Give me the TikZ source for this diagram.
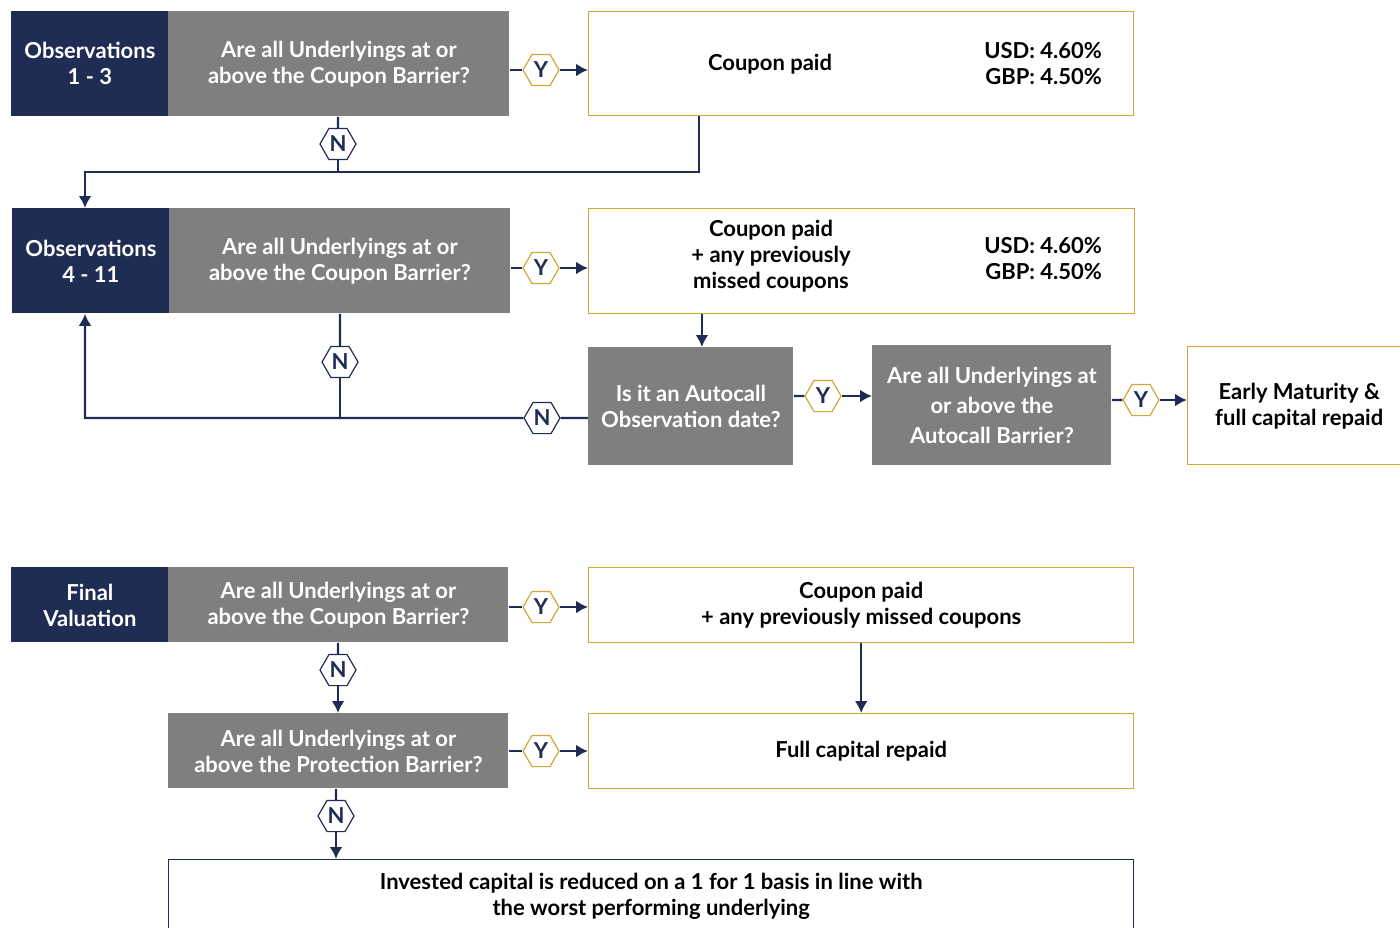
\documentclass[tikz,border=0pt]{standalone}
\usepackage{fontspec}
\setmainfont{Lato}
\usetikzlibrary{arrows.meta,shapes.geometric}
\definecolor{navy}{HTML}{1F2D54}
\definecolor{midgrey}{HTML}{7F7F7F}
\definecolor{gold}{HTML}{D2A735}

\begin{document}
\begin{tikzpicture}[x=0.5pt,y=-0.5pt,
  every node/.style={font=\fontsize{11}{13}\selectfont\bfseries},
  sz/.style 2 args={minimum width=#1*0.5pt,minimum height=#2*0.5pt,inner sep=0pt,anchor=north west},
  navybox/.style={fill=navy,text=white,align=center},
  greybox/.style={fill=midgrey,text=white,align=center},
  goldbox/.style={draw=gold,line width=0.7pt,fill=white,align=center},
  hexy/.style={regular polygon,regular polygon sides=6,draw=gold,line width=0.6pt,fill=white,text=navy,minimum size=18pt,inner sep=0pt},
  hexn/.style={hexy,draw=navy},
  link/.style={draw=navy,line width=1.2pt},
  arr/.style={link,-{Latex[length=6pt,width=6.5pt]}}]
      \useasboundingbox (0,0) rectangle (1400,927);
      \clip (0,0) rectangle (1400,927);

      \node[navybox,sz={157}{105}] (o1) at (11,11) {Observations\\1 - 3};
      \node[greybox,sz={341}{105}] (g1) at (168,11) {Are all Underlyings at or\\above the Coupon Barrier?};
      \node[goldbox,sz={545}{104}] (w1) at (588,11) {};
      \node (c1) at (770,64) {Coupon paid};
      \node[align=right,anchor=east] (r1) at (1109,64) {USD: 4.60\%\\GBP: 4.50\%};
      \node[hexy] (y1) at (541,70) {Y};
      \node[hexn] (n1) at (338,144) {N};
      \coordinate (t1) at (699,172);
      \coordinate (t2) at (85,172);

      \node[navybox,sz={157}{105}] (o2) at (12,208) {Observations\\4 - 11};
      \node[greybox,sz={341}{105}] (g2) at (169,208) {Are all Underlyings at or\\above the Coupon Barrier?};
      \node[goldbox,sz={546}{105}] (w2) at (588,208) {};
      \node[align=center] (c2) at (771,256) {Coupon paid\\+ any previously\\missed coupons};
      \node[align=right,anchor=east] (r2) at (1109,259) {USD: 4.60\%\\GBP: 4.50\%};
      \node[hexy] (y2) at (541,268) {Y};
      \node[hexn] (n2) at (340,362) {N};
      \node[greybox,sz={205}{118}] (a1) at (588,347) {Is it an Autocall\\Observation date?};
      \node[hexn] (n3) at (542,418) {N};
      \coordinate (t4) at (85,418);
      \node[hexy] (y3) at (823,396) {Y};
      \node[greybox,sz={239}{120},font=\fontsize{11}{15}\selectfont\bfseries] (g3) at (872,345) {Are all Underlyings at\\or above the\\Autocall Barrier?};
      \node[hexy] (y4) at (1141,400) {Y};
      \node[goldbox,sz={223}{118}] (e1) at (1187,346) {Early Maturity \&\\full capital repaid};

      \node[navybox,sz={157}{75}] (o3) at (11,567) {Final\\Valuation};
      \node[greybox,sz={340}{75}] (g4) at (168,567) {Are all Underlyings at or\\above the Coupon Barrier?};
      \node[goldbox,sz={545}{75}] (w3) at (588,567) {Coupon paid\\+ any previously missed coupons};
      \node[hexy] (y5) at (541,607) {Y};
      \node[hexn] (n4) at (338,670) {N};
      \node[greybox,sz={340}{75}] (g5) at (168,713) {Are all Underlyings at or\\above the Protection Barrier?};
      \node[goldbox,sz={545}{75}] (w4) at (588,713) {Full capital repaid};
      \node[hexy] (y6) at (541,751) {Y};
      \node[hexn] (n5) at (336,816) {N};
      \node[draw=navy,line width=0.7pt,fill=white,align=center,sz={965}{74}] (b1) at (168,859) {Invested capital is reduced on a 1 for 1 basis in line with\\the worst performing underlying};

      \draw[link] (y1.west) -- (y1.west -| g1.east);
      \draw[arr] (y1.east) -- (y1.east -| w1.west);
      \draw[link] (g1.south -| n1) -- (n1.north);
      \draw[link] (n1.south) -- (n1.south |- t1);
      \draw[arr] (w1.south -| t1) -- (t1) -- (t2) -- (t2 |- o2.north);

      \draw[link] (y2.west) -- (y2.west -| g2.east);
      \draw[arr] (y2.east) -- (y2.east -| w2.west);
      \draw[arr] ([xshift=5.5pt]a1.north |- w2.south) -- ([xshift=5.5pt]a1.north);
      \draw[link] (g2.south -| n2) -- (n2.north);
      \draw[link] (n2.south) -- (n2.south |- n3);
      \draw[link] (a1.west |- n3) -- (n3.east);
      \draw[arr] (n3.west) -- (t4) -- (t4 |- o2.south);
      \draw[link] (a1.east |- y3) -- (y3.west);
      \draw[arr] (y3.east) -- (y3.east -| g3.west);
      \draw[link] (g3.east |- y4) -- (y4.west);
      \draw[arr] (y4.east) -- (y4.east -| e1.west);

      \draw[link] (y5.west) -- (y5.west -| g4.east);
      \draw[arr] (y5.east) -- (y5.east -| w3.west);
      \draw[arr] (w3.south) -- (w4.north);
      \draw[link] (g4.south -| n4) -- (n4.north);
      \draw[arr] (n4.south) -- (n4.south |- g5.north);
      \draw[link] (y6.west) -- (y6.west -| g5.east);
      \draw[arr] (y6.east) -- (y6.east -| w4.west);
      \draw[link] (g5.south -| n5) -- (n5.north);
      \draw[arr] (n5.south) -- (n5.south |- b1.north);
\end{tikzpicture}
\end{document}
